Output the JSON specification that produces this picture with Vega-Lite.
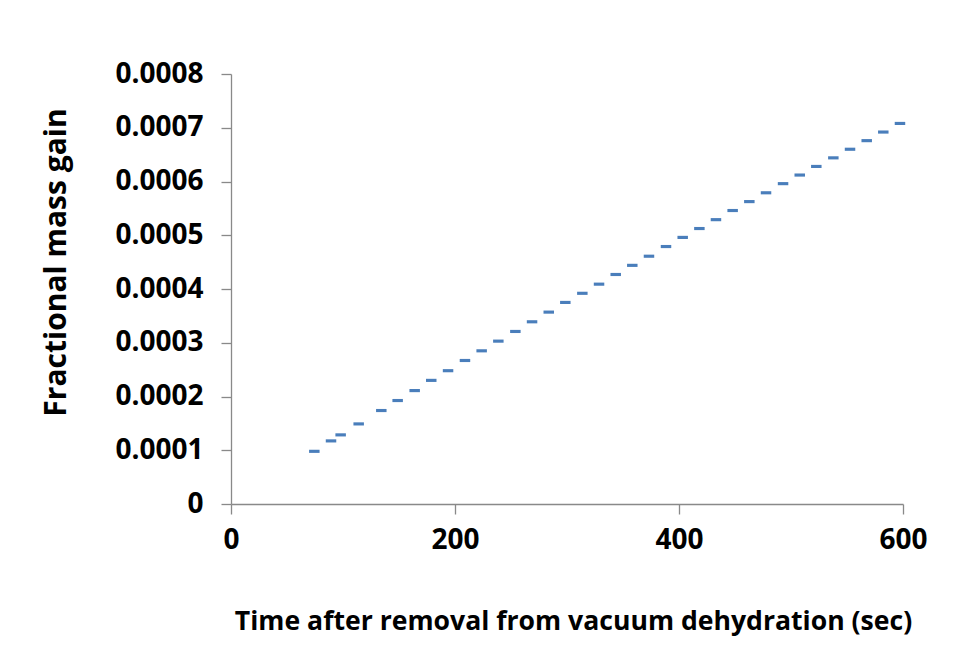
{
  "$schema": "https://vega.github.io/schema/vega-lite/v6.json",
  "autosize": "none",
  "width": 672,
  "height": 430,
  "padding": {"left": 231, "top": 74, "right": 53, "bottom": 162},
  "background": "white",
  "config": {
    "view": {"stroke": null},
    "font": "Open Sans",
    "axis": {
      "grid": false,
      "domainColor": "#898989",
      "domainWidth": 1.3,
      "tickColor": "#898989",
      "tickWidth": 1.3,
      "tickSize": 10,
      "labelFont": "Open Sans",
      "labelFontWeight": "bold",
      "labelColor": "black",
      "titleFont": "Open Sans",
      "titleFontWeight": "bold",
      "titleColor": "black"
    }
  },
  "data": {
    "values": [
      {"t": 74.4, "gain": 0.000098},
      {"t": 89.3, "gain": 0.0001174},
      {"t": 97.9, "gain": 0.0001286},
      {"t": 114.0, "gain": 0.000149},
      {"t": 134.2, "gain": 0.0001739},
      {"t": 148.8, "gain": 0.0001925},
      {"t": 164.0, "gain": 0.000211},
      {"t": 178.8, "gain": 0.00023},
      {"t": 193.8, "gain": 0.000248},
      {"t": 208.9, "gain": 0.000267},
      {"t": 223.8, "gain": 0.000285},
      {"t": 238.7, "gain": 0.000303},
      {"t": 253.9, "gain": 0.000321},
      {"t": 268.8, "gain": 0.000339},
      {"t": 283.7, "gain": 0.000357},
      {"t": 298.5, "gain": 0.000375},
      {"t": 313.7, "gain": 0.000392},
      {"t": 328.6, "gain": 0.000409},
      {"t": 343.5, "gain": 0.000427},
      {"t": 358.3, "gain": 0.000444},
      {"t": 373.2, "gain": 0.000461},
      {"t": 388.4, "gain": 0.000479},
      {"t": 403.3, "gain": 0.000496},
      {"t": 418.2, "gain": 0.0005125},
      {"t": 433.0, "gain": 0.000529},
      {"t": 447.9, "gain": 0.000546},
      {"t": 462.8, "gain": 0.0005626},
      {"t": 477.7, "gain": 0.000579},
      {"t": 492.9, "gain": 0.000596},
      {"t": 507.8, "gain": 0.000612},
      {"t": 522.6, "gain": 0.000628},
      {"t": 537.8, "gain": 0.000644},
      {"t": 552.7, "gain": 0.00066},
      {"t": 567.6, "gain": 0.000676},
      {"t": 582.4, "gain": 0.000692},
      {"t": 597.3, "gain": 0.000708}
    ]
  },
  "mark": {
    "type": "point",
    "shape": "M-1,-0.3L1,-0.3L1,0.3L-1,0.3Z",
    "filled": true,
    "size": 110,
    "color": "#4a7ebb",
    "opacity": 1
  },
  "encoding": {
    "x": {
      "field": "t",
      "type": "quantitative",
      "scale": {"domain": [0, 600], "nice": false, "zero": true},
      "axis": {
        "values": [0, 200, 400, 600],
        "title": "Time after removal from vacuum dehydration (sec)",
        "titleFontSize": 26.6,
        "titlePadding": 54,
        "titleX": 342,
        "labelFontSize": 28,
        "labelPadding": 12,
        "labelFlush": false
      }
    },
    "y": {
      "field": "gain",
      "type": "quantitative",
      "scale": {"domain": [0, 0.0008], "nice": false},
      "axis": {
        "values": [0, 0.0001, 0.0002, 0.0003, 0.0004, 0.0005, 0.0006, 0.0007, 0.0008],
        "format": ".4~f",
        "title": "Fractional mass gain",
        "titleFontSize": 30,
        "titlePadding": 43,
        "titleY": 188,
        "labelFontSize": 28,
        "labelPadding": 18,
        "labelFlush": false
      }
    }
  }
}
